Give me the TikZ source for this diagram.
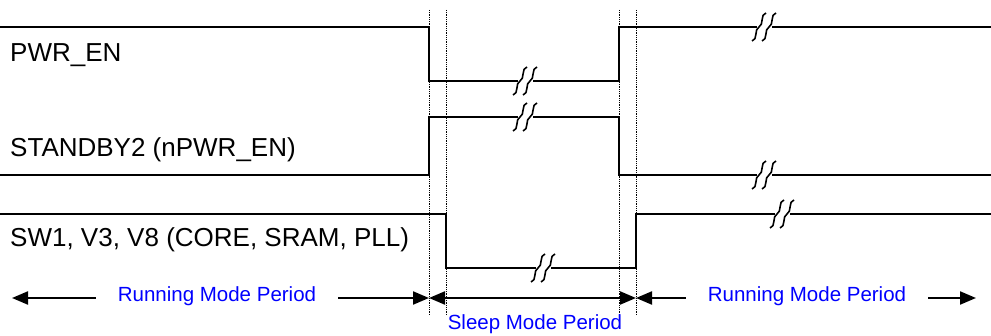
\documentclass[tikz,border=0pt]{standalone}
\usepackage{fontspec}
\setmainfont{Liberation Sans}
\usetikzlibrary{arrows.meta, positioning}

\begin{document}
\begin{tikzpicture}[
            x=1pt, y=-1pt,
            >={Triangle[length=16pt, width=13pt]},
            wave/.style={line width=1.9pt},
            guide/.style={densely dotted, line width=0.8pt},
            period/.style={line width=2.2pt},
            sig/.style={font=\fontsize{26}{30}\selectfont, inner sep=0pt, anchor=base west},
            lbl/.style={font=\fontsize{20.5}{24}\selectfont, text=blue, inner ysep=0pt, inner xsep=22pt, anchor=base},
            brk/.pic={
                \fill[white] (-7.5,-3) rectangle (7.5,3);
                \foreach \d in {-5,5}
                    \draw[line width=1.6pt, xshift=\d pt] (-7,14) .. controls (-1,13) and (-5,2) .. (0,0) .. controls (5,-2) and (1,-13) .. (7,-14);
            }
        ]
            \useasboundingbox (0,0) rectangle (991,336);
            \foreach \x in {429,446,619,636}
                \draw[guide] (\x,10) -- (\x,315);
            \node[sig] (pwr)  at (10,62)  {PWR\_EN};
            \node[sig] (stby) at (10,157) {STANDBY2 (nPWR\_EN)};
            \node[sig] (core) at (10,247) {SW1, V3, V8 (CORE, SRAM, PLL)};
            \draw[wave] (0,27) -| (429,81) -| (619,27) -- (991,27);
            \draw[wave] (0,175) -| (429,117) -| (619,175) -- (991,175);
            \draw[wave] (0,214) -| (446,268) -| (636,214) -- (991,214);
            \pic at (525,81)  {brk};
            \pic at (525,117) {brk};
            \pic at (764,27)  {brk};
            \pic at (764,175) {brk};
            \pic at (543,268) {brk};
            \pic at (782,214) {brk};
            \coordinate (t0) at (12,298);
            \coordinate (t1) at (429,298);
            \coordinate (t2) at (636,298);
            \coordinate (t3) at (976,298);
            \node[lbl] (run1) at (217,302) {Running Mode Period};
            \node[lbl] (run2) at (807,302) {Running Mode Period};
            \node[lbl, inner xsep=0pt] (sleep) at (535,330) {Sleep Mode Period};
            \draw[period, ->] (run1.west |- t0) -- (t0);
            \draw[period, ->] (run1.east |- t1) -- (t1);
            \draw[period, <->] (t1) -- (t2);
            \draw[period, ->] (run2.west |- t2) -- (t2);
            \draw[period, ->] (run2.east |- t3) -- (t3);
        \end{tikzpicture}
\end{document}
